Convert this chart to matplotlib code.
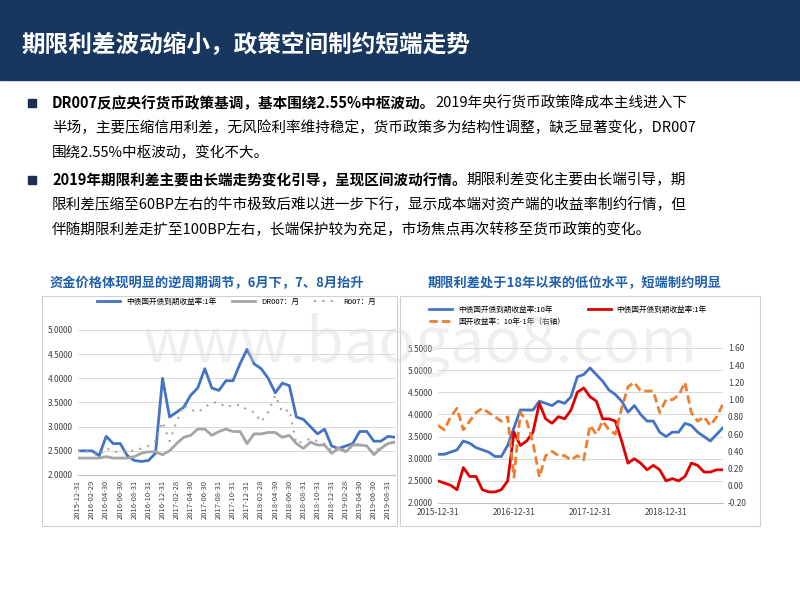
import matplotlib
matplotlib.use("Agg")
import matplotlib.pyplot as plt
from matplotlib.patches import Rectangle
import numpy as np

plt.rcParams['font.family'] = ['Noto Sans CJK SC', 'DejaVu Sans']

# ---- left chart data (monthly Dec2015..Sep2019) ----
left_months = ["2015-12-31","2016-01-31","2016-02-29","2016-03-31","2016-04-30","2016-05-31","2016-06-30","2016-07-31",
               "2016-08-31","2016-09-30","2016-10-31","2016-11-30","2016-12-31","2017-01-31","2017-02-28","2017-03-31",
               "2017-04-30","2017-05-31","2017-06-30","2017-07-31","2017-08-31","2017-09-30","2017-10-31","2017-11-30",
               "2017-12-31","2018-01-31","2018-02-28","2018-03-31","2018-04-30","2018-05-31","2018-06-30","2018-07-31",
               "2018-08-31","2018-09-30","2018-10-31","2018-11-30","2018-12-31","2019-01-31","2019-02-28","2019-03-31",
               "2019-04-30","2019-05-31","2019-06-30","2019-07-31","2019-08-31","2019-09-30"]
cdb_1y = [2.5,2.5,2.5,2.4,2.8,2.65,2.65,2.4,2.3,2.28,2.3,2.45,4.0,3.2,3.3,3.4,3.65,3.8,4.2,3.8,3.75,3.95,3.95,4.3,
          4.6,4.3,4.2,4.0,3.7,3.9,3.85,3.2,3.15,3.0,2.85,2.95,2.6,2.55,2.6,2.65,2.9,2.9,2.7,2.7,2.8,2.78]
dr007 = [2.35,2.35,2.35,2.35,2.38,2.35,2.35,2.35,2.38,2.45,2.48,2.48,2.42,2.5,2.65,2.78,2.82,2.95,2.95,2.82,2.9,2.95,2.9,2.9,
         2.65,2.85,2.85,2.88,2.88,2.78,2.82,2.65,2.55,2.68,2.62,2.62,2.45,2.55,2.48,2.62,2.62,2.6,2.42,2.55,2.65,2.68]
r007 = [2.5,2.5,2.45,2.4,2.55,2.5,2.45,2.5,2.5,2.55,2.6,2.7,3.1,2.7,3.1,3.45,3.35,3.3,3.4,3.5,3.5,3.4,3.45,3.45,
        3.35,3.3,3.1,3.3,3.65,3.3,3.35,2.65,2.7,2.75,2.7,2.65,2.5,2.6,2.5,2.6,2.65,2.6,2.45,2.6,2.65,2.7]

# ---- right chart data ----
right_ticks = ["2015-12-31","2016-12-31","2017-12-31","2018-12-31"]
cdb_10y = [3.1,3.1,3.15,3.2,3.4,3.35,3.25,3.2,3.15,3.05,3.05,3.3,3.7,4.1,4.1,4.1,4.3,4.25,4.2,4.3,4.25,4.4,4.85,4.9,
           5.05,4.9,4.75,4.55,4.45,4.3,4.05,4.2,4.0,3.85,3.85,3.6,3.5,3.6,3.6,3.8,3.75,3.6,3.5,3.4,3.55,3.7]
cdb_1y_r = [2.5,2.45,2.4,2.3,2.8,2.6,2.6,2.3,2.25,2.25,2.3,2.5,3.6,3.3,3.4,3.6,4.25,3.9,3.8,3.95,3.9,4.1,4.5,4.6,
            4.4,4.3,3.9,3.9,3.85,3.4,2.9,3.0,2.9,2.75,2.85,2.75,2.5,2.55,2.5,2.6,2.9,2.85,2.7,2.7,2.75,2.75]
spread = [0.7,0.65,0.8,0.9,0.65,0.75,0.85,0.9,0.85,0.8,0.75,0.8,0.1,0.85,0.75,0.5,0.1,0.35,0.4,0.35,0.35,0.3,0.35,0.3,
          0.7,0.6,0.75,0.65,0.6,0.9,1.15,1.2,1.1,1.1,1.1,0.85,1.0,1.0,1.05,1.2,0.85,0.75,0.8,0.7,0.8,0.95]

W, H = 800, 600
fig = plt.figure(figsize=(8, 6), dpi=100)
fig.patch.set_facecolor('white')

def fx(px): return px / W
def fy(py): return 1 - py / H

# header
fig.patches.append(Rectangle((0, fy(80)), 1, 80 / H, transform=fig.transFigure, color='#17375e', zorder=0))
fig.text(fx(22), fy(45), "期限利差波动缩小，政策空间制约短端走势", color='white', fontsize=17, fontweight='bold', va='center')

# bullet text
navy = '#1f2d50'
fig.canvas.draw()
renderer = fig.canvas.get_renderer()
def line(x, y, parts):
    for txt, bold in parts:
        t = fig.text(fx(x), fy(y), txt, fontsize=10.5, fontweight='bold' if bold else 'normal',
                     color='black', va='center')
        bb = t.get_window_extent(renderer)
        x += bb.width
for by in (103, 180):
    fig.patches.append(Rectangle((fx(28), fy(by + 4)), 8 / W, 8 / H, transform=fig.transFigure, color=navy))
line(52, 103, [("DR007反应央行货币政策基调，基本围绕2.55%中枢波动。", True), ("2019年央行货币政策降成本主线进入下", False)])
line(52, 128, [("半场，主要压缩信用利差，无风险利率维持稳定，货币政策多为结构性调整，缺乏显著变化，DR007", False)])
line(52, 153, [("围绕2.55%中枢波动，变化不大。", False)])
line(52, 180, [("2019年期限利差主要由长端走势变化引导，呈现区间波动行情。", True), ("期限利差变化主要由长端引导，期", False)])
line(52, 205, [("限利差压缩至60BP左右的牛市极致后难以进一步下行，显示成本端对资产端的收益率制约行情，但", False)])
line(52, 230, [("伴随期限利差走扩至100BP左右，长端保护较为充足，市场焦点再次转移至货币政策的变化。", False)])

# chart titles
fig.text(fx(50), fy(283), "资金价格体现明显的逆周期调节，6月下，7、8月抬升", color='#1f5fae', fontsize=9.5, fontweight='bold', va='center')
fig.text(fx(428), fy(283), "期限利差处于18年以来的低位水平，短端制约明显", color='#1f5fae', fontsize=9.5, fontweight='bold', va='center')

# chart boxes
for (x0, x1) in ((42, 397), (400, 760)):
    fig.patches.append(Rectangle((fx(x0), fy(526)), (x1 - x0) / W, (526 - 296) / H, transform=fig.transFigure,
                                 fill=False, ec='#d0d0d0', lw=0.8))

# ---- left axes ----
axL = fig.add_axes([fx(78), fy(475), (395 - 78) / W, (475 - 330) / H])
x = np.arange(len(left_months))
axL.plot(x, cdb_1y, color='#4472c4', lw=2, label='中债国开债到期收益率:1年')
axL.plot(x, dr007, color='#a5a5a5', lw=2, label='DR007：月')
axL.plot(x, r007, color='#a5a5a5', lw=1.5, ls=(0, (1, 3)), label='R007：月')
axL.set_ylim(2.0, 5.0)
axL.set_yticks(np.arange(2.0, 5.01, 0.5))
axL.set_yticklabels([f"{v:.4f}" for v in np.arange(2.0, 5.01, 0.5)], fontsize=6, color='#404040')
axL.set_xlim(0, len(left_months) - 1)
axL.set_xticks(x[::2])
axL.set_xticklabels(left_months[::2], rotation=90, fontsize=5.5, color='#404040')
axL.grid(axis='y', color='#d9d9d9', lw=0.7)
for s in ('top', 'right', 'left'):
    axL.spines[s].set_visible(False)
axL.spines['bottom'].set_color('#bfbfbf')
axL.tick_params(length=0)
axL.legend(loc='lower center', bbox_to_anchor=(0.5, 1.12), ncol=3, fontsize=5.5, frameon=False, handlelength=3)

# ---- right axes ----
axR = fig.add_axes([fx(438), fy(503), (723 - 438) / W, (503 - 348) / H])
xr = np.arange(len(cdb_10y))
l10, = axR.plot(xr, cdb_10y, color='#4472c4', lw=2, label='中债国开债到期收益率:10年')
l1, = axR.plot(xr, cdb_1y_r, color='#e00000', lw=2, label='中债国开债到期收益率:1年')
axR.set_ylim(2.0, 5.5)
yt = np.arange(2.0, 5.51, 0.5)
axR.set_yticks(yt)
axR.set_yticklabels([f"{v:.4f}" for v in yt], fontsize=6, color='#404040')
axR.set_xlim(0, len(cdb_10y) - 1)
axR.set_xticks([0, 12, 24, 36])
axR.set_xticklabels(right_ticks, fontsize=6, color='#404040')
axR.grid(axis='y', color='#d9d9d9', lw=0.7)
for s in ('top', 'right', 'left'):
    axR.spines[s].set_visible(False)
axR.spines['bottom'].set_color('#bfbfbf')
axR.tick_params(length=0)
ax2 = axR.twinx()
ls, = ax2.plot(xr, spread, color='#ed7d31', lw=2, ls=(0, (3, 1.5)), label='国开收益率：10年-1年（右轴）')
ax2.set_ylim(-0.2, 1.6)
y2 = np.arange(-0.2, 1.61, 0.2)
ax2.set_yticks(y2)
ax2.set_yticklabels([f"{v:.2f}" for v in y2], fontsize=6, color='#404040')
for s in ('top', 'right', 'left', 'bottom'):
    ax2.spines[s].set_visible(False)
ax2.tick_params(length=0)
fig.legend([l10, ls, l1], [l10.get_label(), ls.get_label(), l1.get_label()], loc='upper left',
           bbox_to_anchor=(fx(422), fy(299)), ncol=2, fontsize=5.5,
           frameon=False, handlelength=3, columnspacing=3)

# watermark
fig.text(fx(420), fy(345), "www.baogao8.com", fontsize=44, color='#d8d8d8', alpha=0.4, ha='center', va='center', zorder=10)

fig.savefig("out.png", dpi=100)
